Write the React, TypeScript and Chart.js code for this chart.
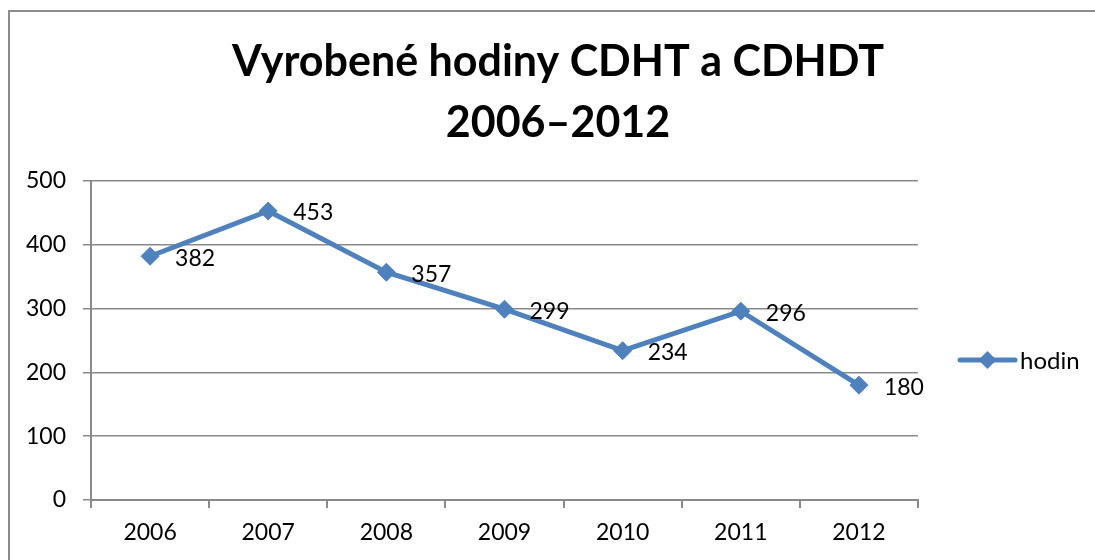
import React, { useEffect, useRef } from "react";
import { Chart, registerables } from "chart.js";

Chart.register(...registerables);

const categories = ["2006", "2007", "2008", "2009", "2010", "2011", "2012"];
const hodin = [382, 453, 357, 299, 234, 296, 180];
const seriesLabel = "hodin";
const titleLines = ["Vyrobené hodiny CDHT a CDHDT", "2006–2012"];
const yMin = 0;
const yMax = 500;
const yStep = 100;

const FONT = "Lato, 'Noto Sans', sans-serif";
const BLUE = "#4F81BD";
const GRID = "#8a8a8a";
const LABEL_SIZE = 23;

const titlePlugin = {
  id: "excelTitle",
  afterDraw(chart: any) {
    const ctx = chart.ctx;
    ctx.save();
    ctx.fillStyle = "#000";
    ctx.font = `bold 43px ${FONT}`;
    ctx.textAlign = "center";
    ctx.textBaseline = "alphabetic";
    const cx = chart.width / 2;
    const baselines = [64, 125];
    titleLines.forEach((t, i) => ctx.fillText(t, cx, baselines[i]));
    ctx.restore();
  },
};

const dataLabelPlugin = {
  id: "dataLabels",
  afterDatasetsDraw(chart: any) {
    const ctx = chart.ctx;
    ctx.save();
    ctx.fillStyle = "#000";
    ctx.font = `${LABEL_SIZE}px ${FONT}`;
    ctx.textAlign = "left";
    ctx.textBaseline = "middle";
    chart.data.datasets.forEach((ds: any, di: number) => {
      const meta = chart.getDatasetMeta(di);
      meta.data.forEach((pt: any, i: number) => {
        ctx.fillText(String(ds.data[i]), pt.x + 25, pt.y + 2);
      });
    });
    ctx.restore();
  },
};

const legendPlugin = {
  id: "excelLegend",
  afterDraw(chart: any) {
    const ctx = chart.ctx;
    const ds = chart.data.datasets[0];
    const y = 348;
    const x0 = 950;
    const x1 = 1005;
    const mx = (x0 + x1) / 2;
    ctx.save();
    ctx.strokeStyle = BLUE;
    ctx.lineWidth = 5;
    ctx.lineCap = "round";
    ctx.beginPath();
    ctx.moveTo(x0, y);
    ctx.lineTo(x1, y);
    ctx.stroke();
    ctx.fillStyle = BLUE;
    const r = 9;
    ctx.beginPath();
    ctx.moveTo(mx, y - r);
    ctx.lineTo(mx + r, y);
    ctx.lineTo(mx, y + r);
    ctx.lineTo(mx - r, y);
    ctx.closePath();
    ctx.fill();
    ctx.fillStyle = "#000";
    ctx.font = `${LABEL_SIZE + 1}px ${FONT}`;
    ctx.textAlign = "left";
    ctx.textBaseline = "middle";
    ctx.fillText(ds.label, x1 + 5, y + 1);
    ctx.restore();
  },
};

export default function App() {
  const ref = useRef<HTMLCanvasElement | null>(null);

  useEffect(() => {
    if (!ref.current) return;
    const chart = new Chart(ref.current, {
      type: "line",
      data: {
        labels: categories,
        datasets: [
          {
            label: seriesLabel,
            data: hodin,
            borderColor: BLUE,
            backgroundColor: BLUE,
            borderWidth: 5,
            pointStyle: "rectRot",
            pointRadius: 9,
            pointBackgroundColor: BLUE,
            pointBorderColor: BLUE,
            pointBorderWidth: 1,
            tension: 0,
          },
        ],
      },
      options: {
        responsive: false,
        animation: false,
        layout: { padding: { top: 169, right: 188, left: 0, bottom: 0 } },
        plugins: {
          legend: { display: false },
          title: { display: false },
          tooltip: { enabled: false },
        },
        scales: {
          x: {
            type: "category",
            offset: true,
            grid: {
              offset: true,
              drawOnChartArea: false,
              drawTicks: true,
              tickLength: 8,
              color: GRID,
              lineWidth: 2,
            },
            border: { display: true, color: GRID, width: 2 },
            ticks: {
              color: "#000",
              font: { family: FONT, size: LABEL_SIZE },
              padding: 11,
              maxRotation: 0,
            },
            afterFit(scale: any) {
              scale.height = 72;
            },
          },
          y: {
            min: yMin,
            max: yMax,
            ticks: {
              stepSize: yStep,
              color: "#000",
              font: { family: FONT, size: LABEL_SIZE },
              padding: 17,
            },
            grid: {
              color: GRID,
              lineWidth: 1.5,
              tickLength: 8,
              drawTicks: true,
            },
            border: { display: true, color: GRID, width: 2 },
            afterFit(scale: any) {
              scale.width = 81;
            },
          },
        },
      },
      plugins: [titlePlugin, dataLabelPlugin, legendPlugin],
    });
    return () => chart.destroy();
  }, []);

  return (
    <div
      style={{
        position: "fixed",
        left: 0,
        top: 0,
        width: 1095,
        height: 560,
        overflow: "hidden",
        background: "#fff",
      }}
    >
      <div
        style={{
          position: "absolute",
          left: 8,
          top: 10,
          width: 1120,
          height: 600,
          borderLeft: "2px solid #8c8c8c",
          borderTop: "2px solid #8c8c8c",
          boxSizing: "border-box",
        }}
      >
        <canvas
          ref={ref}
          width={1096}
          height={560}
          style={{ position: "absolute", left: 0, top: 0, width: 1096, height: 560 }}
        />
      </div>
    </div>
  );
}
